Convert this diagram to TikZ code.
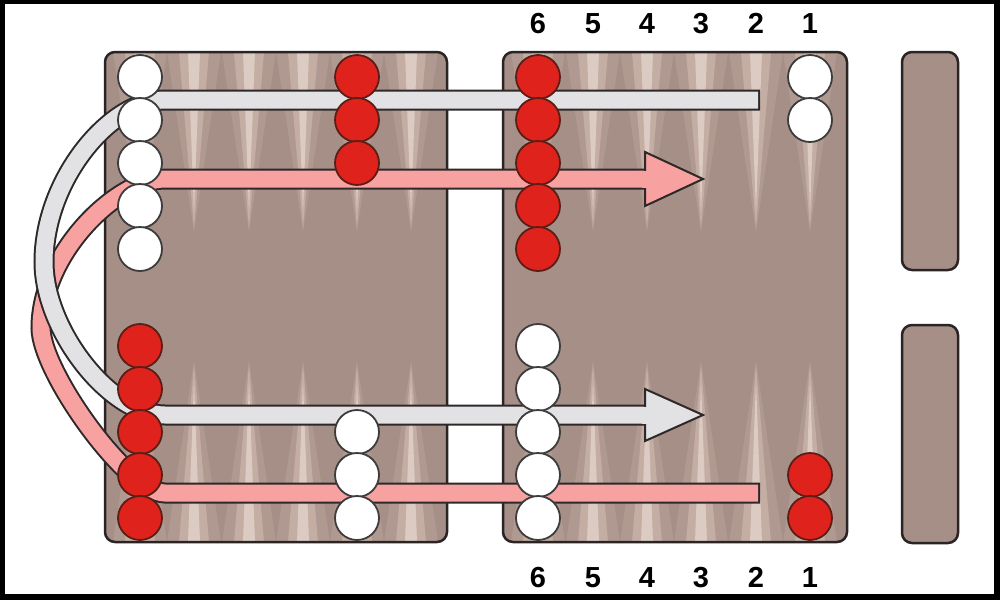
\documentclass[tikz,border=0pt]{standalone}
\usepackage{fontspec}
\setmainfont{Liberation Sans}
\definecolor{boardc}{HTML}{A68F87}
\definecolor{tria}{HTML}{B09990}
\definecolor{trib}{HTML}{C4AEA4}
\definecolor{tric}{HTML}{DCCBC2}
\definecolor{edgec}{HTML}{2A2424}
\definecolor{checkred}{HTML}{E0221C}
\definecolor{redline}{HTML}{5A1E16}
\definecolor{whiteline}{HTML}{3C3C3C}
\definecolor{whiteb}{HTML}{E2E2E5}
\definecolor{pinkb}{HTML}{F7A2A0}
\definecolor{bandedge}{HTML}{2E2828}
\tikzset{
  boardbox/.style={draw=edgec, line width=2.5pt, rounded corners=10pt},
  redck/.style={circle, minimum size=44pt, inner sep=0pt, fill=checkred, draw=redline, line width=1.8pt},
  whiteck/.style={circle, minimum size=44pt, inner sep=0pt, fill=white, draw=whiteline, line width=1.8pt},
  num/.style={font=\fontsize{29}{31}\selectfont\bfseries, text=black, inner sep=0pt, anchor=base},
  bandout/.style={draw=bandedge, line width=21pt},
  whiteband/.style={draw=whiteb, line width=17pt},
  pinkband/.style={draw=pinkb, line width=17pt},
  headw/.style={fill=whiteb, draw=bandedge, line width=2pt, line join=miter},
  headp/.style={fill=pinkb, draw=bandedge, line width=2pt, line join=miter},
}
\begin{document}
\begin{tikzpicture}[x=1pt,y=-1pt]
\useasboundingbox (0,0) rectangle (1000,600);
\fill[black] (0,0) rectangle (1000,600);
\fill[white] (5,4) rectangle (994,594);

% boards with points
\foreach \bx/\ex/\cols in {105/447/{140,194,249,303,357,411}, 503/847/{538,593,647,701,756,810}} {
  \begin{scope}
    \clip[rounded corners=10pt] (\bx,52) rectangle (\ex,542);
    \fill[boardc] (\bx,52) rectangle (\ex,542);
    \foreach \c in \cols {
      \fill[tria] (\c-27,52) -- (\c,232) -- (\c+27,52) -- cycle;
      \fill[trib] (\c-15,52) -- (\c,228) -- (\c+15,52) -- cycle;
      \fill[tric] (\c-6,52) -- (\c,212) -- (\c+6,52) -- cycle;
      \fill[tria] (\c-27,542) -- (\c,361) -- (\c+27,542) -- cycle;
      \fill[trib] (\c-15,542) -- (\c,365) -- (\c+15,542) -- cycle;
      \fill[tric] (\c-6,542) -- (\c,381) -- (\c+6,542) -- cycle;
    }
  \end{scope}
}
\draw[boardbox] (105,52) rectangle (447,542);
\draw[boardbox] (503,52) rectangle (847,542);
\draw[boardbox, fill=boardc] (902,52) rectangle (958,270);
\draw[boardbox, fill=boardc] (902,325) rectangle (958,543);

% path coordinates
\coordinate (w0) at (760,100);
\coordinate (w1) at (758,100);
\coordinate (wa) at (165,100);
\coordinate (wl) at (44,262);
\coordinate (wb) at (165,415);
\coordinate (wh) at (646,415);
\coordinate (p0) at (760,493);
\coordinate (p1) at (758,493);
\coordinate (pa) at (165,493);
\coordinate (pl) at (41,328);
\coordinate (pb) at (165,179);
\coordinate (ph) at (646,179);

% pink arrow
\draw[bandout] (p0) -- (pa) .. controls (128,493) and (41,372) .. (pl) .. controls (41,252) and (118,179) .. (pb) -- (ph);
\draw[pinkband] (p1) -- (pa) .. controls (128,493) and (41,372) .. (pl) .. controls (41,252) and (118,179) .. (pb) -- (ph);
\filldraw[headp] (645,152) -- (703,179) -- (645,206) -- cycle;
\fill[pinkb] (642,170.5) rectangle (648,187.5);

% white arrow
\draw[bandout] (w0) -- (wa) .. controls (110,100) and (44,180) .. (wl) .. controls (44,330) and (110,415) .. (wb) -- (wh);
\draw[whiteband] (w1) -- (wa) .. controls (110,100) and (44,180) .. (wl) .. controls (44,330) and (110,415) .. (wb) -- (wh);
\filldraw[headw] (645,389) -- (703,415) -- (645,441) -- cycle;
\fill[whiteb] (642,406.5) rectangle (648,423.5);

% checkers, top half
\foreach \y [count=\i] in {77,120,163,206,249} {
  \node[whiteck] (tw\i) at (140,\y) {};
  \node[redck] (tr\i) at (538,\y) {};
}
\foreach \y [count=\i] in {77,120,163} {
  \node[redck] (tm\i) at (357,\y) {};
}
\foreach \y [count=\i] in {77,120} {
  \node[whiteck] (to\i) at (810,\y) {};
}
% checkers, bottom half
\foreach \y [count=\i] in {346,389,432,475,518} {
  \node[redck] (br\i) at (140,\y) {};
  \node[whiteck] (bw\i) at (538,\y) {};
}
\foreach \y [count=\i] in {432,475,518} {
  \node[whiteck] (bm\i) at (357,\y) {};
}
\foreach \y [count=\i] in {475,518} {
  \node[redck] (bo\i) at (810,\y) {};
}

% point numbers
\foreach \x/\n in {538/6,593/5,647/4,701/3,756/2,810/1} {
  \node[num] (nt\n) at (\x,33) {\n};
  \node[num] (nb\n) at (\x,587) {\n};
}
\end{tikzpicture}
\end{document}
